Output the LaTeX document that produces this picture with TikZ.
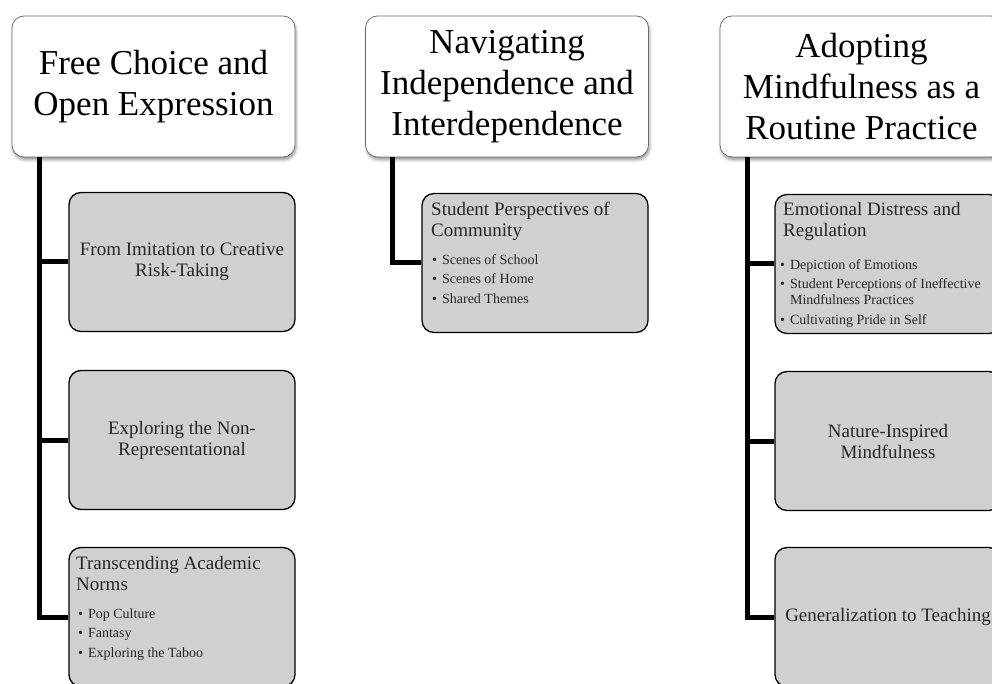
\documentclass[tikz,border=0pt]{standalone}
\usepackage{fontspec}
\setmainfont{Liberation Serif}
\usetikzlibrary{shadows.blur}
\definecolor{boxgray}{RGB}{208,208,208}
\definecolor{topborder}{RGB}{110,110,110}
\definecolor{txt}{RGB}{38,38,38}
\begin{document}
\begin{tikzpicture}[x=1pt,y=-1pt,
  topbox/.style={draw=topborder, line width=0.8pt, fill=white, rounded corners=12pt,
    minimum width=283pt, minimum height=141pt, inner sep=0pt, align=center,
    font=\fontsize{35}{41}\selectfont,
    blur shadow={shadow xshift=1pt, shadow yshift=-3pt, shadow blur radius=3pt, shadow opacity=40}},
  subbox/.style={draw=black, line width=1.3pt, fill=boxgray, rounded corners=12pt,
    minimum width=226pt, minimum height=139pt, inner sep=0pt, align=center, text=txt,
    font=\fontsize{19}{21}\selectfont},
  subtext/.style={anchor=base west, inner sep=0pt, align=left, text=txt,
    font=\fontsize{19}{21}\selectfont},
  bullets/.style={anchor=base west, inner sep=0pt, align=left, text=txt,
    font=\fontsize{14}{19.5}\selectfont},
  conn/.style={line width=5pt, line join=miter}]
\useasboundingbox (0,0) rectangle (992,684);
\clip (0,0) rectangle (992,684);

% top boxes
\node[topbox] (t1) at (153.5,86.5) {Free Choice and\\Open Expression};
\node[topbox] (t2) at (507,86.5) {Navigating\\Independence and\\Interdependence};
\node[topbox] (t3) at (861.5,86.5) {Adopting\\Mindfulness as a\\Routine Practice};

% column 1
\node[subbox] (c1a) at (182,262) {From Imitation to Creative\\Risk-Taking};
\node[subbox] (c1b) at (182,440) {Exploring the Non-\\Representational};
\node[subbox] (c1c) at (182,617) {};
\node[subtext] (c1ch) at (76,590) {Transcending Academic\\Norms};
\node[bullets] (c1cb) at (78,657) {•\hspace{5pt}Pop Culture\\•\hspace{5pt}Fantasy\\•\hspace{5pt}Exploring the Taboo};

% column 2
\node[subbox] (c2a) at (535,263) {};
\node[subtext] (c2ah) at (431,237) {Student Perspectives of\\Community};
\node[bullets] (c2ab) at (432,303) {•\hspace{5pt}Scenes of School\\•\hspace{5pt}Scenes of Home\\•\hspace{5pt}Shared Themes};

% column 3
\node[subbox] (c3a) at (888,264) {};
\node[subtext] (c3ah) at (783,237) {Emotional Distress and\\Regulation};
\node[bullets] (c3ab) at (780,324) {•\hspace{5pt}Depiction of Emotions\\•\hspace{5pt}Student Perceptions of Ineffective\\[-3.5pt]\hphantom{•}\hspace{5pt}Mindfulness Practices\\•\hspace{5pt}Cultivating Pride in Self};
\node[subbox] (c3b) at (888,441) {Nature-Inspired\\Mindfulness};
\node[subbox] (c3c) at (888,617) {Generalization to Teaching};

% connectors
\path (t1.south west) ++(28,0) coordinate (r1);
\path (t2.south west) ++(27,0) coordinate (r2);
\path (t3.south west) ++(28,0) coordinate (r3);
\draw[conn] (r1) |- (c1a.west);
\draw[conn] (r1) |- (c1b.west);
\draw[conn] (r1) |- (c1c.west);
\draw[conn] (r2) |- (c2a.west);
\draw[conn] (r3) |- (c3a.west);
\draw[conn] (r3) |- (c3b.west);
\draw[conn] (r3) |- (c3c.west);
\end{tikzpicture}
\end{document}
